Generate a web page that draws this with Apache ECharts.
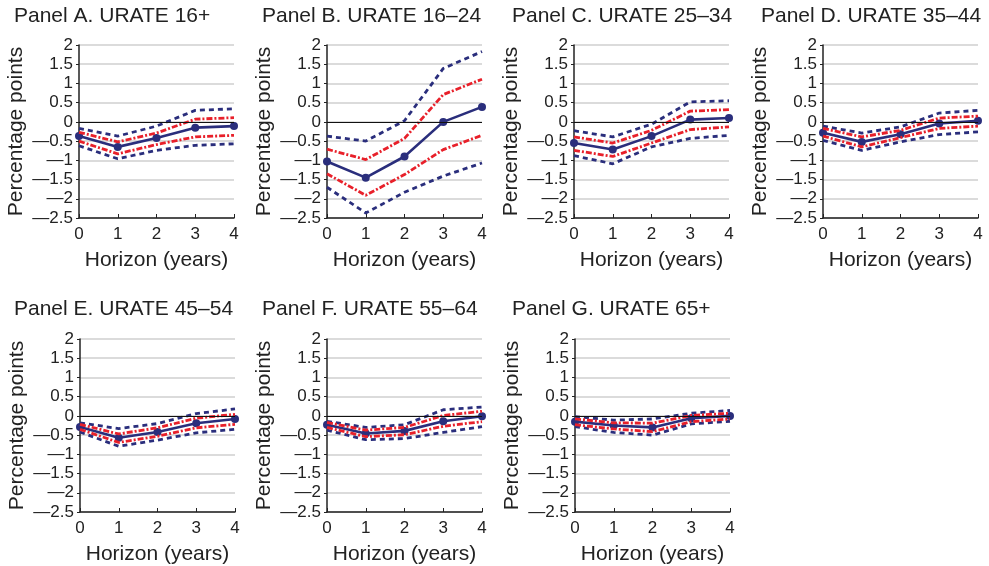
<!DOCTYPE html>
<html>
<head>
<meta charset="utf-8">
<script src="https://cdn.jsdelivr.net/npm/echarts@6/dist/echarts.min.js"></script>
<style>html,body{margin:0;padding:0;background:#fff}#c{width:989px;height:566px}</style>
</head>
<body>
<div id="c"></div>
<script>
var horizons = [0, 1, 2, 3, 4];
var yTicks = [-2.5, -2, -1.5, -1, -0.5, 0, 0.5, 1, 1.5, 2];
var panelTitles = ['Panel A. URATE 16+', 'Panel B. URATE 16\u201324', 'Panel C. URATE 25\u201334', 'Panel D. URATE 35\u201344', 'Panel E. URATE 45\u201354', 'Panel F. URATE 55\u201364', 'Panel G. URATE 65+'];

// point estimates
var estA = [-0.37, -0.65, -0.42, -0.15, -0.11];
var estB = [-1.03, -1.45, -0.90, 0.00, 0.39];
var estC = [-0.55, -0.72, -0.37, 0.06, 0.10];
var estD = [-0.28, -0.52, -0.32, -0.04, 0.03];
var estE = [-0.29, -0.57, -0.42, -0.19, -0.08];
var estF = [-0.23, -0.46, -0.39, -0.14, -0.01];
var estG = [-0.15, -0.25, -0.30, -0.06, 0.00];

// inner band (red dash-dot)
var innerUpA = [-0.27, -0.52, -0.29, 0.07, 0.11];
var innerLoA = [-0.50, -0.83, -0.59, -0.39, -0.35];
var innerUpB = [-0.71, -0.98, -0.43, 0.71, 1.11];
var innerLoB = [-1.35, -1.91, -1.37, -0.72, -0.35];
var innerUpC = [-0.39, -0.55, -0.22, 0.28, 0.32];
var innerLoC = [-0.74, -0.90, -0.55, -0.20, -0.13];
var innerUpD = [-0.17, -0.39, -0.22, 0.10, 0.15];
var innerLoD = [-0.37, -0.65, -0.41, -0.17, -0.11];
var innerUpE = [-0.22, -0.47, -0.31, -0.06, 0.04];
var innerLoE = [-0.35, -0.69, -0.53, -0.31, -0.22];
var innerUpF = [-0.17, -0.37, -0.30, 0.01, 0.12];
var innerLoF = [-0.30, -0.54, -0.49, -0.27, -0.15];
var innerUpG = [-0.08, -0.18, -0.19, 0.01, 0.07];
var innerLoG = [-0.23, -0.34, -0.41, -0.15, -0.08];

// outer band (blue dashed)
var outerUpA = [-0.17, -0.37, -0.11, 0.30, 0.34];
var outerLoA = [-0.62, -0.96, -0.74, -0.61, -0.57];
var outerUpB = [-0.37, -0.50, 0.03, 1.39, 1.83];
var outerLoB = [-1.70, -2.37, -1.83, -1.41, -1.07];
var outerUpC = [-0.23, -0.39, -0.06, 0.52, 0.55];
var outerLoC = [-0.88, -1.09, -0.65, -0.43, -0.35];
var outerUpD = [-0.11, -0.29, -0.13, 0.23, 0.30];
var outerLoD = [-0.48, -0.74, -0.52, -0.33, -0.26];
var outerUpE = [-0.18, -0.33, -0.20, 0.06, 0.18];
var outerLoE = [-0.42, -0.79, -0.63, -0.44, -0.35];
var outerUpF = [-0.14, -0.30, -0.23, 0.16, 0.23];
var outerLoF = [-0.37, -0.62, -0.59, -0.43, -0.28];
var outerUpG = [-0.02, -0.11, -0.08, 0.07, 0.14];
var outerLoG = [-0.28, -0.43, -0.50, -0.21, -0.14];

var panels = [
  {est: estA, iu: innerUpA, il: innerLoA, ou: outerUpA, ol: outerLoA},
  {est: estB, iu: innerUpB, il: innerLoB, ou: outerUpB, ol: outerLoB},
  {est: estC, iu: innerUpC, il: innerLoC, ou: outerUpC, ol: outerLoC},
  {est: estD, iu: innerUpD, il: innerLoD, ou: outerUpD, ol: outerLoD},
  {est: estE, iu: innerUpE, il: innerLoE, ou: outerUpE, ol: outerLoE},
  {est: estF, iu: innerUpF, il: innerLoF, ou: outerUpF, ol: outerLoF},
  {est: estG, iu: innerUpG, il: innerLoG, ou: outerUpG, ol: outerLoG}
];

var gridPos = [
  {left: 79, top: 45}, {left: 327, top: 45}, {left: 574, top: 45}, {left: 823, top: 45},
  {left: 80, top: 339}, {left: 327, top: 339}, {left: 575, top: 339}
];
var titlePos = [
  {left: 9, top: 1}, {left: 257, top: 1}, {left: 507, top: 1}, {left: 756, top: 1},
  {left: 9, top: 294}, {left: 257, top: 294}, {left: 507, top: 294}
];

var NAVY = '#2a2e7c', RED = '#e8202a';
var FONT = 'Liberation Sans, Arial, sans-serif';

function pairs(arr) { return horizons.map(function (h, i) { return [h, arr[i]]; }); }
function fmt(v) {
  if (v === 0) return '0';
  var s = String(Math.abs(v));
  return (v < 0 ? '\u2014' : '') + s;
}

var option = {
  animation: false,
  backgroundColor: '#fff',
  title: [], grid: [], xAxis: [], yAxis: [], series: []
};

panels.forEach(function (p, k) {
  option.title.push({
    text: panelTitles[k], left: titlePos[k].left, top: titlePos[k].top,
    textStyle: {fontFamily: FONT, fontSize: 21, fontWeight: 'normal', color: '#222'}
  });
  option.grid.push({left: gridPos[k].left, top: gridPos[k].top, width: 155, height: 173});
  option.xAxis.push({
    type: 'value', gridIndex: k, min: 0, max: 4, interval: 1,
    name: 'Horizon (years)', nameLocation: 'middle', nameGap: 32,
    nameTextStyle: {fontFamily: FONT, fontSize: 21, color: '#222'},
    axisLine: {show: true, onZero: false, lineStyle: {color: '#222', width: 1.5}},
    axisTick: {show: true, inside: true, length: 4, lineStyle: {color: '#222'}},
    axisLabel: {fontFamily: FONT, fontSize: 17, color: '#222', margin: 8},
    splitLine: {show: false}
  });
  option.yAxis.push({
    type: 'value', gridIndex: k, min: -2.5, max: 2, interval: 0.5,
    name: 'Percentage points', nameLocation: 'middle', nameGap: 52,
    nameTextStyle: {fontFamily: FONT, fontSize: 21, color: '#222'},
    axisLine: {show: true, lineStyle: {color: '#222', width: 1.5}},
    axisTick: {show: true, length: 3, lineStyle: {color: '#222'}},
    axisLabel: {fontFamily: FONT, fontSize: 17, color: '#222', margin: 6, formatter: fmt},
    splitLine: {show: true, lineStyle: {color: '#cfcfcf', width: 1.5}}
  });
  var base = {type: 'line', xAxisIndex: k, yAxisIndex: k, silent: true, symbol: 'none'};
  option.series.push(Object.assign({}, base, {
    data: pairs(p.ou), lineStyle: {color: NAVY, width: 2.8, type: [5, 4]}
  }));
  option.series.push(Object.assign({}, base, {
    data: pairs(p.ol), lineStyle: {color: NAVY, width: 2.8, type: [5, 4]}
  }));
  option.series.push(Object.assign({}, base, {
    data: pairs(p.iu), lineStyle: {color: RED, width: 2.8, type: [6, 2, 2, 2]}
  }));
  option.series.push(Object.assign({}, base, {
    data: pairs(p.il), lineStyle: {color: RED, width: 2.8, type: [6, 2, 2, 2]}
  }));
  option.series.push(Object.assign({}, base, {
    data: pairs(p.est), symbol: 'circle', symbolSize: 8,
    itemStyle: {color: NAVY}, lineStyle: {color: NAVY, width: 2.6},
    markLine: {silent: true, symbol: 'none', label: {show: false},
      lineStyle: {color: '#111', width: 1.2, type: 'solid'}, data: [{yAxis: 0}]},
    z: 1
  }));
});

var chart = echarts.init(document.getElementById('c'), null, {renderer: 'canvas'});
chart.setOption(option);
</script>
</body>
</html>
